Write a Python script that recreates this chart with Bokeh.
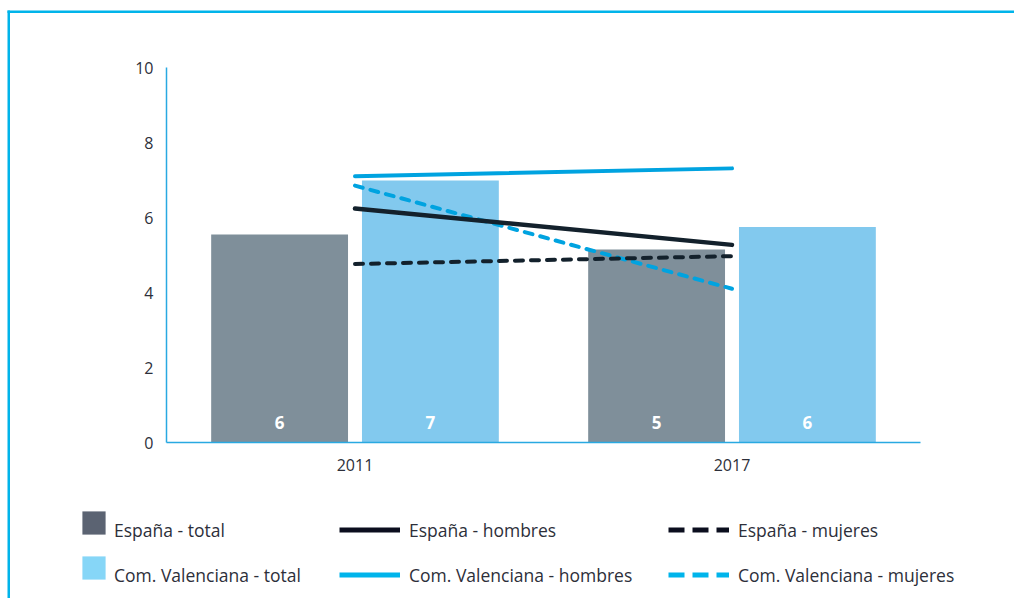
from bokeh.plotting import figure
from bokeh.models import (Range1d, FixedTicker, Legend, LegendItem,
                          BoxAnnotation, ColumnDataSource)
from bokeh.transform import dodge
from bokeh.core.properties import value
from bokeh.embed import file_html
from bokeh.resources import INLINE

# ---- data ----
years = ["2011", "2017"]
espana_total = [5.55, 5.15]
cv_total = [6.99, 5.75]
espana_hombres = [6.24, 5.27]
espana_mujeres = [4.76, 4.97]
cv_hombres = [7.10, 7.31]
cv_mujeres = [6.85, 4.10]
y_ticks = [0, 2, 4, 6, 8, 10]

FONT = "Open Sans"
TXT = "#2d2f3a"
CYAN_AXIS = "#29a9e1"

# category slots: each year occupies one unit on the x scale
xpos = [i + 0.5 for i in range(len(years))]

src = ColumnDataSource(dict(
    x=xpos,
    espana_total=espana_total,
    cv_total=cv_total,
    espana_lbl=[str(int(round(v))) for v in espana_total],
    cv_lbl=[str(int(round(v))) for v in cv_total],
    zero=[0] * len(years),
))

# canvas layout (pixels): plot area x 166..920, y(0)=442, y(10)=67
W, H = 1014, 598
X0, X1 = 166, 920
Y0, Y10 = 442, 67
ppx = (X1 - X0) / len(years)
ppy = (Y0 - Y10) / 10.0

p = figure(x_range=Range1d(-X0 / ppx, len(years) + (W - X1) / ppx),
           y_range=Range1d(-(H - Y0) / ppy, 10 + Y10 / ppy),
           width=W, height=H, output_backend="svg", toolbar_location=None,
           min_border=0, min_border_left=0, min_border_right=0,
           min_border_top=0, min_border_bottom=0)
p.outline_line_color = None
p.grid.visible = False
p.background_fill_color = "white"
p.border_fill_color = "white"

# bars
p.vbar(x=dodge("x", -0.2), top="espana_total", width=0.363,
       source=src, fill_color="#7f8f9a", line_color=None)
p.vbar(x=dodge("x", 0.2), top="cv_total", width=0.363,
       source=src, fill_color="#82c9ee", line_color=None)

# bar labels
for off, col in [(-0.2, "espana_lbl"), (0.2, "cv_lbl")]:
    p.text(x=dodge("x", off), y="zero", text=col, source=src,
           text_color="white", text_font=value(FONT), text_font_size="17px",
           text_font_style="bold",
           text_align="center", text_baseline="middle", y_offset=-20)

# lines
p.line(xpos, cv_hombres, line_color="#00a3e0", line_width=4, line_cap="round")
p.line(xpos, cv_mujeres, line_color="#00a3e0", line_width=4, line_cap="round",
       line_dash="8 8")
p.line(xpos, espana_hombres, line_color="#13212c", line_width=4.5, line_cap="round")
p.line(xpos, espana_mujeres, line_color="#13212c", line_width=4, line_cap="round",
       line_dash="8 8")

# axes (placed at data zero inside the frame)
for ax in (p.xaxis, p.yaxis):
    ax.axis_line_color = CYAN_AXIS
    ax.axis_line_width = 1.5
    ax.major_tick_line_color = None
    ax.minor_tick_line_color = None
    ax.major_label_text_font = FONT
    ax.major_label_text_font_size = "16px"
    ax.major_label_text_color = TXT
    ax.fixed_location = 0
p.yaxis.ticker = FixedTicker(ticks=y_ticks)
p.yaxis.bounds = (0, 10)
p.yaxis.major_label_standoff = 7
p.xaxis.ticker = FixedTicker(ticks=xpos)
p.xaxis.major_label_overrides = {x: y for x, y in zip(xpos, years)}
p.xaxis.bounds = (0, len(years))
p.xaxis.major_label_standoff = 10

# legend: placeholder renderers (no visible data) carry legend-only styling
nan = float("nan")
r_es_tot = p.vbar(x=[nan], top=[nan], width=0.1, fill_color="#5b6372", line_color=None)
r_cv_tot = p.vbar(x=[nan], top=[nan], width=0.1, fill_color="#86d6f7", line_color=None)
r_blank = p.vbar(x=[nan], top=[nan], width=0.1, fill_alpha=0, line_alpha=0)
r_es_h = p.line(x=[nan], y=[nan], line_color="#0b0e1e", line_width=5)
r_cv_h = p.line(x=[nan], y=[nan], line_color="#00b4eb", line_width=5)
r_es_m = p.line(x=[nan], y=[nan], line_color="#0b0e1e", line_width=5, line_dash="16 8")
r_cv_m = p.line(x=[nan], y=[nan], line_color="#00b4eb", line_width=5, line_dash="16 8")

def make_legend(items, loc, gw, gh, lh=37, standoff=9, spacing=8):
    lg = Legend(items=[LegendItem(label=l, renderers=[r]) for l, r in items],
                location=loc, orientation="vertical",
                glyph_width=gw, glyph_height=gh, label_height=lh,
                label_standoff=standoff, spacing=spacing, padding=0, margin=0,
                border_line_color=None, background_fill_alpha=0,
                label_text_font=FONT, label_text_font_size="17.5px",
                label_text_color=TXT)
    p.add_layout(lg, "center")

# column 1: swatches sit a little higher than their labels
make_legend([(" ", r_es_tot), (" ", r_cv_tot)], (79, 16), 29, 29, lh=29, spacing=16)
make_legend([("España - total", r_blank), ("Com. Valenciana - total", r_blank)],
            (79, 5), 29, 37, standoff=6)
make_legend([("España - hombres", r_es_h), ("Com. Valenciana - hombres", r_cv_h)],
            (339, 5), 61, 37)
make_legend([("España - mujeres", r_es_m), ("Com. Valenciana - mujeres", r_cv_m)],
            (668, 5), 61, 37)

# frame border (top and left)
p.add_layout(BoxAnnotation(left=7, right=W, top=10, bottom=12.5,
                           left_units="canvas", right_units="canvas",
                           top_units="canvas", bottom_units="canvas",
                           fill_color="#00b4ea", fill_alpha=1, line_color=None))
p.add_layout(BoxAnnotation(left=7, right=9.5, top=10, bottom=H,
                           left_units="canvas", right_units="canvas",
                           top_units="canvas", bottom_units="canvas",
                           fill_color="#00b4ea", fill_alpha=1, line_color=None))

open("out.html", "w").write(file_html(p, INLINE))
